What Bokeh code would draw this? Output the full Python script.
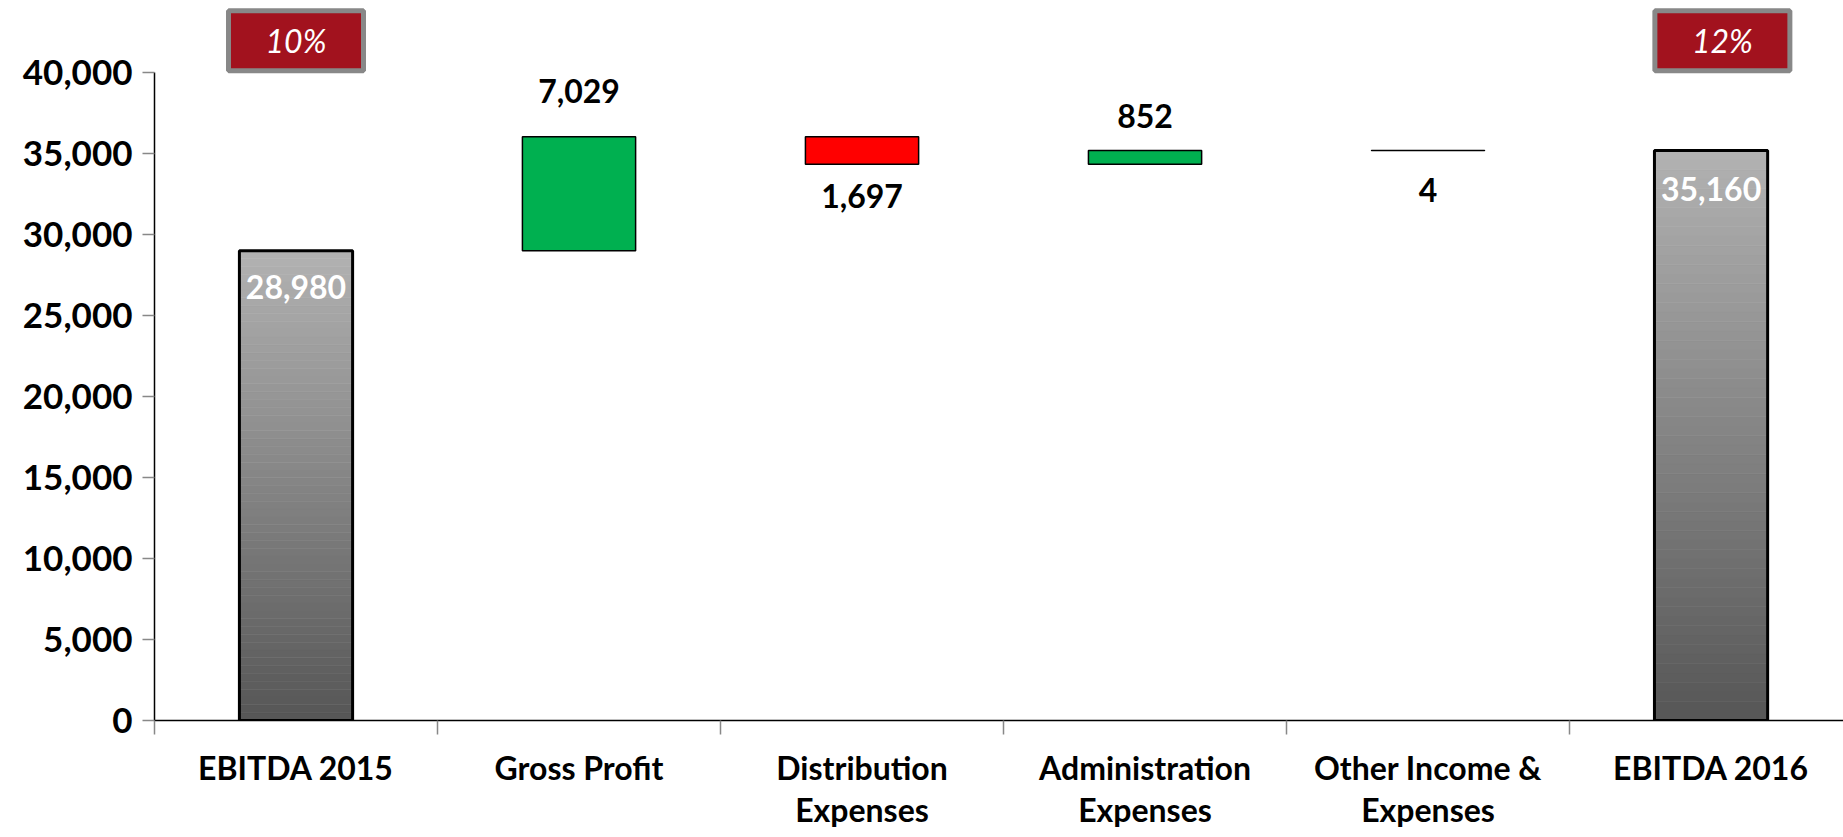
from bokeh.plotting import figure
from bokeh.models import FixedTicker, NumeralTickFormatter, Range1d, ColumnDataSource
from bokeh.core.properties import value
from bokeh.embed import file_html
from bokeh.resources import INLINE

# ---- data ----
categories = ["EBITDA 2015", "Gross Profit", "Distribution\nExpenses",
              "Administration\nExpenses", "Other Income &\nExpenses", "EBITDA 2016"]
start_total = 28980
changes = [7029, -1697, 852, -4]
end_total = 35160
margins = ["10%", "12%"]
y_ticks = [0, 5000, 10000, 15000, 20000, 25000, 30000, 35000, 40000]

# ---- style / layout ----
FONT = value("Lato")
BAR_W = 0.40
Y_TOP = 40000
Y_END = 44420
X_END = 5.968
GREEN = "#00B050"
RED = "#FF0000"
BOX_FILL = "#A2121E"
BOX_LINE = "#888888"
TICK_GREY = "#888888"
# label offsets in screen px (start total, each change, end total)
LABEL_OFFSETS = [36, -46, 32, -35, 39, 38]
BOX_Y = 41940
BOX_DX = [0.0, 0.04]

centers = [i + 0.5 for i in range(len(categories))]

# waterfall geometry from data
fl_x, fl_b, fl_t, fl_c = [], [], [], []
running = start_total
for i, ch in enumerate(changes):
    new = running + ch
    fl_x.append(centers[i + 1])
    fl_b.append(min(running, new))
    fl_t.append(max(running, new))
    fl_c.append(GREEN if ch > 0 else RED)
    running = new

p = figure(width=1843, height=837, x_range=Range1d(0, X_END), y_range=Range1d(0, Y_END),
           output_backend="svg", toolbar_location=None,
           min_border_left=154, min_border_right=0, min_border_top=0, min_border_bottom=117)
p.xgrid.visible = False
p.ygrid.visible = False
p.outline_line_color = None
p.background_fill_color = "white"
p.border_fill_color = "white"

# ---- total bars with vertical gradient ----
N = 60
g_l, g_r, g_b, g_t, g_c = [], [], [], [], []
totals = [(centers[0], start_total), (centers[-1], end_total)]
for cx, v in totals:
    for k in range(N):
        f = (k + 0.5) / N
        lvl = int(round(0x56 + (0xB2 - 0x56) * f))
        col = "#%02x%02x%02x" % (lvl, lvl, lvl)
        g_l.append(cx - BAR_W / 2)
        g_r.append(cx + BAR_W / 2)
        g_b.append(v * k / N)
        g_t.append(v * (k + 1) / N)
        g_c.append(col)
p.quad(left=g_l, right=g_r, bottom=g_b, top=g_t, fill_color=g_c, line_color=g_c, line_width=0.6)
p.quad(left=[c - BAR_W / 2 for c, _ in totals], right=[c + BAR_W / 2 for c, _ in totals],
       bottom=[0, 0], top=[v for _, v in totals], fill_color=None, line_color="black", line_width=3)

# ---- floating bars ----
p.quad(left=[x - BAR_W / 2 for x in fl_x], right=[x + BAR_W / 2 for x in fl_x],
       bottom=fl_b, top=fl_t, fill_color=fl_c, line_color="black", line_width=1.5)

# ---- data labels ----
lab_x = [centers[0]]
lab_y = [start_total]
lab_t = [f"{start_total:,}"]
lab_col = ["white"]
running = start_total
for i, ch in enumerate(changes):
    running = running + ch
    lab_x.append(centers[i + 1])
    lab_y.append(running)
    lab_t.append(f"{abs(ch):,}")
    lab_col.append("black")
lab_x.append(centers[-1]); lab_y.append(end_total); lab_t.append(f"{end_total:,}"); lab_col.append("white")
src = ColumnDataSource(dict(x=lab_x, y=lab_y, t=lab_t, off=LABEL_OFFSETS, col=lab_col))
p.text(x="x", y="y", text="t", y_offset="off", text_color="col", source=src,
       text_font=FONT, text_font_style="bold", text_font_size="32px",
       text_align="center", text_baseline="middle")

# ---- margin boxes ----
box_x = [centers[0] + BOX_DX[0], centers[-1] + BOX_DX[1]]
box_y = [BOX_Y, BOX_Y]
p.rect(x=box_x, y=box_y, width=135, height=60, width_units="screen", height_units="screen",
       fill_color=BOX_FILL, line_color=BOX_LINE, line_width=5)
p.text(x=box_x, y=box_y, text=margins, text_color="white", text_font=FONT,
       text_font_style="italic", text_font_size="32px", text_align="center", text_baseline="middle")

# ---- axes ----
ya = p.yaxis[0]
ya.ticker = FixedTicker(ticks=y_ticks, minor_ticks=[])
ya.formatter = NumeralTickFormatter(format="0,0")
ya.bounds = (0, Y_TOP)
ya.axis_line_color = "black"
ya.axis_line_width = 1.5
ya.major_tick_line_color = TICK_GREY
ya.major_tick_line_width = 1.5
ya.major_tick_out = 12
ya.major_tick_in = 0
ya.minor_tick_line_color = None
ya.major_label_text_font = "Lato"
ya.major_label_text_font_style = "bold"
ya.major_label_text_font_size = "35px"
ya.major_label_text_color = "black"
ya.major_label_standoff = 10

xa = p.xaxis[0]
xa.ticker = FixedTicker(ticks=centers, minor_ticks=list(range(len(categories) + 1)))
xa.major_label_overrides = {c: lab for c, lab in zip(centers, categories)}
xa.axis_line_color = "black"
xa.axis_line_width = 1.5
xa.major_tick_line_color = None
xa.major_tick_out = 0
xa.major_tick_in = 0
xa.minor_tick_line_color = TICK_GREY
xa.minor_tick_line_width = 1.5
xa.minor_tick_out = 14
xa.minor_tick_in = 0
xa.major_label_text_font = "Lato"
xa.major_label_text_font_style = "bold"
xa.major_label_text_font_size = "32px"
xa.major_label_text_color = "black"
xa.major_label_text_line_height = 1.1
xa.major_label_standoff = 13

open("out.html", "w").write(file_html(p, INLINE))
